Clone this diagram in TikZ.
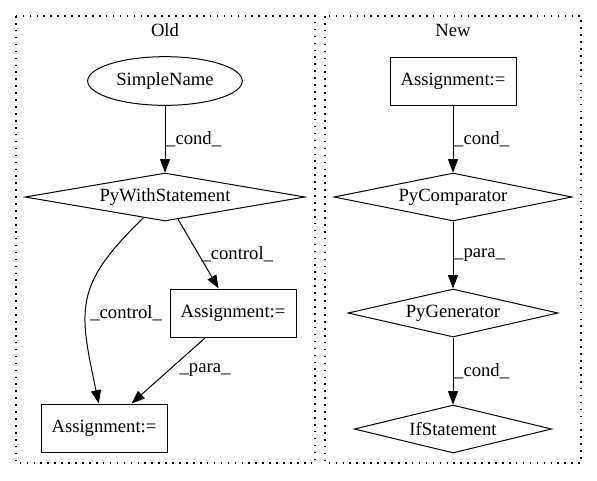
\documentclass[tikz,border=0pt]{standalone}
\usepackage{fontspec}
\setmainfont{Liberation Serif}
\usetikzlibrary{shapes.geometric,arrows.meta}
\begin{document}
\begin{tikzpicture}[x=0.75pt,y=-0.75pt,
  every node/.style={font=\fontsize{14}{16}\selectfont},
  box/.style={draw, rectangle, line width=0.75pt, inner sep=0pt, minimum width=94.5pt, minimum height=36pt},
  oval/.style={draw, ellipse, line width=0.75pt, inner sep=0pt, minimum width=116pt, minimum height=36.5pt},
  dia/.style={draw, diamond, aspect=5, line width=0.75pt, inner sep=0pt, minimum height=36pt},
  cluster/.style={draw, line width=0.8pt, dash pattern=on 1.2pt off 4pt},
  edge/.style={draw, line width=0.75pt, -{Triangle[length=10pt,width=7.5pt]}},
  lab/.style={anchor=west, inner sep=0pt}]
\useasboundingbox (0,0) rectangle (597,480);
% clusters
\draw[cluster] (16,16) rectangle (315,463);
\draw[cluster] (325,16) rectangle (581,463);
\node (oldlab) at (165,30) {Old};
\node (newlab) at (453,30) {New};
% Old
\node[oval] (sn) at (165,81) {SimpleName};
\node[dia, minimum width=210pt] (pws) at (165,197) {PyWithStatement};
\node[box] (a1) at (233,313) {Assignment:=};
\node[box] (a2) at (104,428) {Assignment:=};
% New
\node[box] (na) at (453,81) {Assignment:=};
\node[dia, minimum width=178.5pt] (pc) at (453,197) {PyComparator};
\node[dia, minimum width=157.5pt] (pg) at (453,313) {PyGenerator};
\node[dia, minimum width=148pt] (ifs) at (453,429) {IfStatement};
% edges Old
\draw[edge] (sn) -- node[lab, xshift=0.5pt] {\_cond\_} (pws);
\draw[edge] (pws) -- node[lab, xshift=2pt] {\_control\_} (a1);
\draw[edge] (pws) to[out=-136, in=102, looseness=1.3] node[lab, pos=0.58, xshift=3pt] {\_control\_} (a2);
\draw[edge] (a1) -- node[lab, xshift=8pt] {\_para\_} (a2);
% edges New
\draw[edge] (na) -- node[lab, xshift=0.5pt] {\_cond\_} (pc);
\draw[edge] (pc) -- node[lab, xshift=0.5pt] {\_para\_} (pg);
\draw[edge] (pg) -- node[lab, xshift=0.5pt] {\_cond\_} (ifs);
\end{tikzpicture}
\end{document}
